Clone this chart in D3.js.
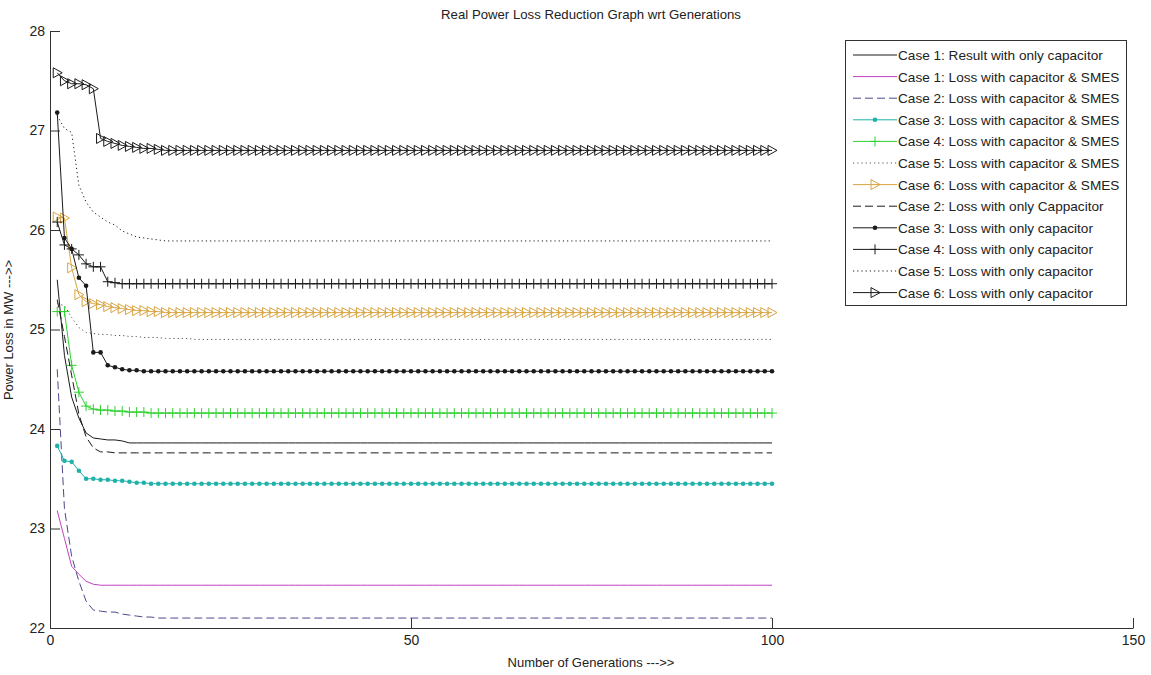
<!DOCTYPE html>
<html>
<head>
<meta charset="utf-8">
<script src="https://cdn.jsdelivr.net/npm/d3@7"></script>
<style>
  html, body { margin: 0; padding: 0; background: #fff; }
  svg { display: block; font-family: "Liberation Sans", Arial, sans-serif; }
</style>
</head>
<body>
<svg id="chart" width="1151" height="675"></svg>
<script>
// Generations 1..100
const generations = d3.range(1, 101);

const xTicks = [0, 50, 100, 150];
const yTicks = [22, 23, 24, 25, 26, 27, 28];

const titleText = "Real Power Loss Reduction Graph wrt Generations";
const xLabel = "Number of Generations --->>";
const yLabel = "Power Loss in MW --->>";

const seriesNames = [
  "Case 1: Result with only capacitor",
  "Case 1: Loss with capacitor & SMES",
  "Case 2: Loss with capacitor & SMES",
  "Case 3: Loss with capacitor & SMES",
  "Case 4: Loss with capacitor & SMES",
  "Case 5: Loss with capacitor & SMES",
  "Case 6: Loss with capacitor & SMES",
  "Case 2: Loss with only Cappacitor",
  "Case 3: Loss with only capacitor",
  "Case 4: Loss with only capacitor",
  "Case 5: Loss with only capacitor",
  "Case 6: Loss with only capacitor"
];

// Power loss (MW) per generation, one array per case
const case1Cap = [25.50,24.74,24.32,24.11,23.96,23.91,23.90,23.89,23.89,23.88,
  23.86,23.86,23.86,23.86,23.86,23.86,23.86,23.86,23.86,23.86,
  23.86,23.86,23.86,23.86,23.86,23.86,23.86,23.86,23.86,23.86,
  23.86,23.86,23.86,23.86,23.86,23.86,23.86,23.86,23.86,23.86,
  23.86,23.86,23.86,23.86,23.86,23.86,23.86,23.86,23.86,23.86,
  23.86,23.86,23.86,23.86,23.86,23.86,23.86,23.86,23.86,23.86,
  23.86,23.86,23.86,23.86,23.86,23.86,23.86,23.86,23.86,23.86,
  23.86,23.86,23.86,23.86,23.86,23.86,23.86,23.86,23.86,23.86,
  23.86,23.86,23.86,23.86,23.86,23.86,23.86,23.86,23.86,23.86,
  23.86,23.86,23.86,23.86,23.86,23.86,23.86,23.86,23.86,23.86];

const case1Smes = [23.18,22.90,22.62,22.54,22.47,22.44,22.43,22.43,22.43,22.43,
  22.43,22.43,22.43,22.43,22.43,22.43,22.43,22.43,22.43,22.43,
  22.43,22.43,22.43,22.43,22.43,22.43,22.43,22.43,22.43,22.43,
  22.43,22.43,22.43,22.43,22.43,22.43,22.43,22.43,22.43,22.43,
  22.43,22.43,22.43,22.43,22.43,22.43,22.43,22.43,22.43,22.43,
  22.43,22.43,22.43,22.43,22.43,22.43,22.43,22.43,22.43,22.43,
  22.43,22.43,22.43,22.43,22.43,22.43,22.43,22.43,22.43,22.43,
  22.43,22.43,22.43,22.43,22.43,22.43,22.43,22.43,22.43,22.43,
  22.43,22.43,22.43,22.43,22.43,22.43,22.43,22.43,22.43,22.43,
  22.43,22.43,22.43,22.43,22.43,22.43,22.43,22.43,22.43,22.43];

const case2Smes = [24.60,23.20,22.72,22.47,22.27,22.18,22.17,22.16,22.16,22.14,
  22.13,22.12,22.11,22.11,22.10,22.10,22.10,22.10,22.10,22.10,
  22.10,22.10,22.10,22.10,22.10,22.10,22.10,22.10,22.10,22.10,
  22.10,22.10,22.10,22.10,22.10,22.10,22.10,22.10,22.10,22.10,
  22.10,22.10,22.10,22.10,22.10,22.10,22.10,22.10,22.10,22.10,
  22.10,22.10,22.10,22.10,22.10,22.10,22.10,22.10,22.10,22.10,
  22.10,22.10,22.10,22.10,22.10,22.10,22.10,22.10,22.10,22.10,
  22.10,22.10,22.10,22.10,22.10,22.10,22.10,22.10,22.10,22.10,
  22.10,22.10,22.10,22.10,22.10,22.10,22.10,22.10,22.10,22.10,
  22.10,22.10,22.10,22.10,22.10,22.10,22.10,22.10,22.10,22.10];

const case3Smes = [23.83,23.68,23.67,23.58,23.50,23.50,23.49,23.49,23.48,23.48,
  23.47,23.46,23.46,23.45,23.45,23.45,23.45,23.45,23.45,23.45,
  23.45,23.45,23.45,23.45,23.45,23.45,23.45,23.45,23.45,23.45,
  23.45,23.45,23.45,23.45,23.45,23.45,23.45,23.45,23.45,23.45,
  23.45,23.45,23.45,23.45,23.45,23.45,23.45,23.45,23.45,23.45,
  23.45,23.45,23.45,23.45,23.45,23.45,23.45,23.45,23.45,23.45,
  23.45,23.45,23.45,23.45,23.45,23.45,23.45,23.45,23.45,23.45,
  23.45,23.45,23.45,23.45,23.45,23.45,23.45,23.45,23.45,23.45,
  23.45,23.45,23.45,23.45,23.45,23.45,23.45,23.45,23.45,23.45,
  23.45,23.45,23.45,23.45,23.45,23.45,23.45,23.45,23.45,23.45];

const case4Smes = [25.18,25.18,24.64,24.37,24.23,24.20,24.19,24.19,24.18,24.18,
  24.17,24.17,24.17,24.16,24.16,24.16,24.16,24.16,24.16,24.16,
  24.16,24.16,24.16,24.16,24.16,24.16,24.16,24.16,24.16,24.16,
  24.16,24.16,24.16,24.16,24.16,24.16,24.16,24.16,24.16,24.16,
  24.16,24.16,24.16,24.16,24.16,24.16,24.16,24.16,24.16,24.16,
  24.16,24.16,24.16,24.16,24.16,24.16,24.16,24.16,24.16,24.16,
  24.16,24.16,24.16,24.16,24.16,24.16,24.16,24.16,24.16,24.16,
  24.16,24.16,24.16,24.16,24.16,24.16,24.16,24.16,24.16,24.16,
  24.16,24.16,24.16,24.16,24.16,24.16,24.16,24.16,24.16,24.16,
  24.16,24.16,24.16,24.16,24.16,24.16,24.16,24.16,24.16,24.16];

const case5Smes = [25.26,25.24,25.12,25.02,24.97,24.96,24.95,24.95,24.94,24.94,
  24.93,24.93,24.92,24.92,24.92,24.91,24.91,24.91,24.91,24.90,
  24.90,24.90,24.90,24.90,24.90,24.90,24.90,24.90,24.90,24.90,
  24.90,24.90,24.90,24.90,24.90,24.90,24.90,24.90,24.90,24.90,
  24.90,24.90,24.90,24.90,24.90,24.90,24.90,24.90,24.90,24.90,
  24.90,24.90,24.90,24.90,24.90,24.90,24.90,24.90,24.90,24.90,
  24.90,24.90,24.90,24.90,24.90,24.90,24.90,24.90,24.90,24.90,
  24.90,24.90,24.90,24.90,24.90,24.90,24.90,24.90,24.90,24.90,
  24.90,24.90,24.90,24.90,24.90,24.90,24.90,24.90,24.90,24.90,
  24.90,24.90,24.90,24.90,24.90,24.90,24.90,24.90,24.90,24.90];

const case6Smes = [26.13,26.12,25.62,25.35,25.28,25.26,25.25,25.23,25.22,25.21,
  25.20,25.19,25.19,25.18,25.18,25.17,25.17,25.17,25.17,25.17,
  25.17,25.17,25.17,25.17,25.17,25.17,25.17,25.17,25.17,25.17,
  25.17,25.17,25.17,25.17,25.17,25.17,25.17,25.17,25.17,25.17,
  25.17,25.17,25.17,25.17,25.17,25.17,25.17,25.17,25.17,25.17,
  25.17,25.17,25.17,25.17,25.17,25.17,25.17,25.17,25.17,25.17,
  25.17,25.17,25.17,25.17,25.17,25.17,25.17,25.17,25.17,25.17,
  25.17,25.17,25.17,25.17,25.17,25.17,25.17,25.17,25.17,25.17,
  25.17,25.17,25.17,25.17,25.17,25.17,25.17,25.17,25.17,25.17,
  25.17,25.17,25.17,25.17,25.17,25.17,25.17,25.17,25.17,25.17];

const case2Cap = [25.30,24.93,24.54,24.15,23.92,23.81,23.77,23.77,23.76,23.76,
  23.76,23.76,23.76,23.76,23.76,23.76,23.76,23.76,23.76,23.76,
  23.76,23.76,23.76,23.76,23.76,23.76,23.76,23.76,23.76,23.76,
  23.76,23.76,23.76,23.76,23.76,23.76,23.76,23.76,23.76,23.76,
  23.76,23.76,23.76,23.76,23.76,23.76,23.76,23.76,23.76,23.76,
  23.76,23.76,23.76,23.76,23.76,23.76,23.76,23.76,23.76,23.76,
  23.76,23.76,23.76,23.76,23.76,23.76,23.76,23.76,23.76,23.76,
  23.76,23.76,23.76,23.76,23.76,23.76,23.76,23.76,23.76,23.76,
  23.76,23.76,23.76,23.76,23.76,23.76,23.76,23.76,23.76,23.76,
  23.76,23.76,23.76,23.76,23.76,23.76,23.76,23.76,23.76,23.76];

const case3Cap = [27.18,25.92,25.81,25.52,25.44,24.77,24.77,24.64,24.62,24.60,
  24.59,24.59,24.58,24.58,24.58,24.58,24.58,24.58,24.58,24.58,
  24.58,24.58,24.58,24.58,24.58,24.58,24.58,24.58,24.58,24.58,
  24.58,24.58,24.58,24.58,24.58,24.58,24.58,24.58,24.58,24.58,
  24.58,24.58,24.58,24.58,24.58,24.58,24.58,24.58,24.58,24.58,
  24.58,24.58,24.58,24.58,24.58,24.58,24.58,24.58,24.58,24.58,
  24.58,24.58,24.58,24.58,24.58,24.58,24.58,24.58,24.58,24.58,
  24.58,24.58,24.58,24.58,24.58,24.58,24.58,24.58,24.58,24.58,
  24.58,24.58,24.58,24.58,24.58,24.58,24.58,24.58,24.58,24.58,
  24.58,24.58,24.58,24.58,24.58,24.58,24.58,24.58,24.58,24.58];

const case4Cap = [26.08,25.85,25.81,25.75,25.66,25.63,25.63,25.48,25.47,25.46,
  25.46,25.46,25.46,25.46,25.46,25.46,25.46,25.46,25.46,25.46,
  25.46,25.46,25.46,25.46,25.46,25.46,25.46,25.46,25.46,25.46,
  25.46,25.46,25.46,25.46,25.46,25.46,25.46,25.46,25.46,25.46,
  25.46,25.46,25.46,25.46,25.46,25.46,25.46,25.46,25.46,25.46,
  25.46,25.46,25.46,25.46,25.46,25.46,25.46,25.46,25.46,25.46,
  25.46,25.46,25.46,25.46,25.46,25.46,25.46,25.46,25.46,25.46,
  25.46,25.46,25.46,25.46,25.46,25.46,25.46,25.46,25.46,25.46,
  25.46,25.46,25.46,25.46,25.46,25.46,25.46,25.46,25.46,25.46,
  25.46,25.46,25.46,25.46,25.46,25.46,25.46,25.46,25.46,25.46];

const case5Cap = [27.15,27.02,26.98,26.45,26.28,26.18,26.13,26.08,26.05,25.99,
  25.96,25.93,25.92,25.91,25.90,25.89,25.89,25.89,25.89,25.89,
  25.89,25.89,25.89,25.89,25.89,25.89,25.89,25.89,25.89,25.89,
  25.89,25.89,25.89,25.89,25.89,25.89,25.89,25.89,25.89,25.89,
  25.89,25.89,25.89,25.89,25.89,25.89,25.89,25.89,25.89,25.89,
  25.89,25.89,25.89,25.89,25.89,25.89,25.89,25.89,25.89,25.89,
  25.89,25.89,25.89,25.89,25.89,25.89,25.89,25.89,25.89,25.89,
  25.89,25.89,25.89,25.89,25.89,25.89,25.89,25.89,25.89,25.89,
  25.89,25.89,25.89,25.89,25.89,25.89,25.89,25.89,25.89,25.89,
  25.89,25.89,25.89,25.89,25.89,25.89,25.89,25.89,25.89,25.89];

const case6Cap = [27.58,27.50,27.47,27.47,27.46,27.42,26.92,26.89,26.87,26.85,
  26.84,26.83,26.82,26.82,26.81,26.80,26.80,26.80,26.80,26.80,
  26.80,26.80,26.80,26.80,26.80,26.80,26.80,26.80,26.80,26.80,
  26.80,26.80,26.80,26.80,26.80,26.80,26.80,26.80,26.80,26.80,
  26.80,26.80,26.80,26.80,26.80,26.80,26.80,26.80,26.80,26.80,
  26.80,26.80,26.80,26.80,26.80,26.80,26.80,26.80,26.80,26.80,
  26.80,26.80,26.80,26.80,26.80,26.80,26.80,26.80,26.80,26.80,
  26.80,26.80,26.80,26.80,26.80,26.80,26.80,26.80,26.80,26.80,
  26.80,26.80,26.80,26.80,26.80,26.80,26.80,26.80,26.80,26.80,
  26.80,26.80,26.80,26.80,26.80,26.80,26.80,26.80,26.80,26.80];

const seriesValues = [case1Cap, case1Smes, case2Smes, case3Smes, case4Smes, case5Smes,
  case6Smes, case2Cap, case3Cap, case4Cap, case5Cap, case6Cap];

// Line style per series: colour, dash pattern, marker
const styles = [
  { color: "#1a1a1a", dash: null,    marker: null },
  { color: "#c040c0", dash: null,    marker: null },
  { color: "#4a4a8c", dash: "8,4",   marker: null },
  { color: "#20b2aa", dash: null,    marker: "dot" },
  { color: "#2fd12f", dash: null,    marker: "plus" },
  { color: "#555555", dash: "1.2,3", marker: null },
  { color: "#d9a441", dash: null,    marker: "tri" },
  { color: "#1a1a1a", dash: "8,4",   marker: null },
  { color: "#1a1a1a", dash: null,    marker: "dot" },
  { color: "#1a1a1a", dash: null,    marker: "plus" },
  { color: "#1a1a1a", dash: "1.2,3", marker: null },
  { color: "#1a1a1a", dash: null,    marker: "tri" }
];

const svg = d3.select("#chart");
svg.append("rect").attr("width", 1151).attr("height", 675).attr("fill", "#fff");

const x = d3.scaleLinear().domain([0, 150]).range([50, 1133]);
const y = d3.scaleLinear().domain([22, 28]).range([628, 31]);

const axisColor = "#333";

// Axes with inward ticks (left and bottom only)
const gx = svg.append("g").attr("transform", `translate(0,${y(22)})`)
  .call(d3.axisBottom(x).tickValues(xTicks).tickFormat(d3.format("d"))
    .tickSizeInner(-10).tickSizeOuter(0).tickPadding(7));
const gy = svg.append("g").attr("transform", `translate(${x(0)},0)`)
  .call(d3.axisLeft(y).tickValues(yTicks).tickFormat(d3.format("d"))
    .tickSizeInner(-10).tickSizeOuter(0).tickPadding(5));
[gx, gy].forEach(g => {
  g.select(".domain").attr("stroke", axisColor);
  g.selectAll(".tick line").attr("stroke", axisColor);
  g.selectAll(".tick text").attr("fill", "#222").style("font-size", "14px")
    .style("font-family", "'Liberation Sans', Arial, sans-serif");
});

// Marker shapes
function drawMarker(sel, type, color) {
  if (type === "dot") {
    sel.append("circle").attr("r", 2.3).attr("fill", color).attr("stroke", "none");
  } else if (type === "plus") {
    sel.append("path").attr("d", "M-5,0H5M0,-5V5").attr("stroke", color)
      .attr("stroke-width", 1).attr("fill", "none");
  } else if (type === "tri") {
    sel.append("path").attr("d", "M-4,-5L-4,5L5,0Z").attr("stroke", color)
      .attr("stroke-width", 1).attr("fill", "none");
  }
}

const line = d3.line().x((d, i) => x(generations[i])).y(d => y(d));

const plot = svg.append("g");
seriesValues.forEach((vals, k) => {
  const st = styles[k];
  plot.append("path").datum(vals)
    .attr("d", line)
    .attr("fill", "none")
    .attr("stroke", st.color)
    .attr("stroke-width", 1)
    .attr("stroke-dasharray", st.dash);
  if (st.marker) {
    plot.append("g").selectAll("g").data(vals).join("g")
      .attr("transform", (d, i) => `translate(${x(generations[i])},${y(d)})`)
      .each(function () { drawMarker(d3.select(this), st.marker, st.color); });
  }
});

// Title and axis labels
svg.append("text").attr("x", 591).attr("y", 19).attr("text-anchor", "middle")
  .style("font-size", "13.2px").attr("fill", "#222").text(titleText);
svg.append("text").attr("x", 591).attr("y", 667).attr("text-anchor", "middle")
  .style("font-size", "13px").attr("fill", "#222").text(xLabel);
svg.append("text").attr("transform", "translate(13,330) rotate(-90)").attr("text-anchor", "middle")
  .style("font-size", "13px").attr("fill", "#222").text(yLabel);

// Legend
const lg = svg.append("g");
lg.append("rect").attr("x", 845.5).attr("y", 40.5).attr("width", 281).attr("height", 265)
  .attr("fill", "#fff").attr("stroke", "#333");
seriesNames.forEach((name, k) => {
  const st = styles[k];
  const cy = 55 + k * 21.6;
  lg.append("line").attr("x1", 853).attr("x2", 897).attr("y1", cy).attr("y2", cy)
    .attr("stroke", st.color).attr("stroke-width", 1).attr("stroke-dasharray", st.dash);
  if (st.marker) {
    drawMarker(lg.append("g").attr("transform", `translate(875,${cy})`), st.marker, st.color);
  }
  lg.append("text").attr("x", 898).attr("y", cy + 5).style("font-size", "13.6px")
    .attr("fill", "#222").text(name);
});
</script>
</body>
</html>
